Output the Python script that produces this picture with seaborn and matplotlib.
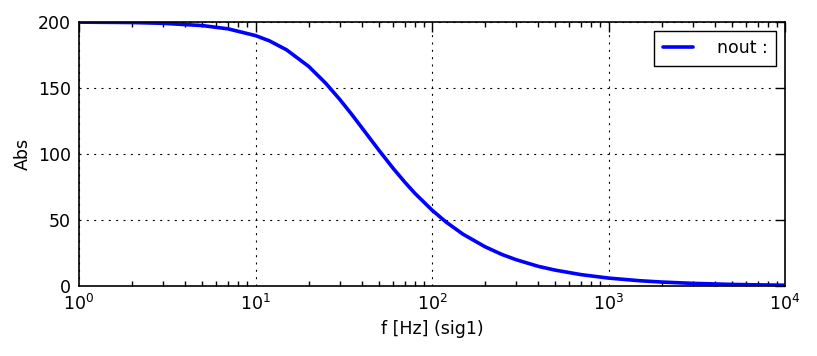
import matplotlib
matplotlib.use("Agg")
import matplotlib.pyplot as plt
import seaborn as sns
import pandas as pd
import numpy as np

freq = [1, 2, 3, 5, 7, 10, 12, 15, 20, 25, 30, 35, 40, 50, 60, 70, 80, 100, 120, 150,
        200, 250, 300, 400, 500, 700, 1000, 1500, 2000, 3000, 5000, 7000, 10000]
absval = [199.9, 199.6, 199.0, 197.3, 194.8, 189.7, 185.7, 178.9, 166.4, 153.6, 141.4,
          130.2, 120.0, 102.9, 89.4, 78.8, 70.2, 57.5, 48.5, 39.2,
          29.7, 23.8, 19.9, 14.9, 12.0, 8.6, 6.0, 4.0, 3.0, 2.0, 1.2, 0.86, 0.6]
series_name = "nout :"

df = pd.DataFrame({"f": freq, "Abs": absval, "series": series_name})

sns.set_style("white")
plt.rcParams['font.family'] = ['DejaVu Sans']
plt.rcParams['xtick.direction'] = 'in'
plt.rcParams['ytick.direction'] = 'in'
plt.rcParams['xtick.top'] = True
plt.rcParams['ytick.right'] = True
plt.rcParams['text.color'] = 'black'
plt.rcParams['axes.labelcolor'] = 'black'
plt.rcParams['xtick.color'] = 'black'
plt.rcParams['ytick.color'] = 'black'

fs = 12.5
lw = 2.6
fig = plt.figure(figsize=(8.17, 3.56), dpi=100)
ax = fig.add_axes([79/817, 1-286/356, (785-79)/817, (286-22)/356])

sns.lineplot(data=df, x="f", y="Abs", hue="series", palette=["#0000ff"],
             linewidth=lw, ax=ax)
ax.set_xscale("log")
ax.set_xlim(1, 1e4)
ax.set_ylim(0, 200)
ax.set_yticks([0, 50, 100, 150, 200])
ax.set_xlabel("f [Hz] (sig1)", fontsize=fs)
ax.set_ylabel("Abs", fontsize=fs)
ax.tick_params(axis='both', which='major', labelsize=fs, length=7, width=1, color='black',
               labelcolor='black', pad=6)
ax.tick_params(axis='x', which='minor', length=3.5, width=1, color='black', top=True, bottom=True, direction='in')
ax.grid(True, which='major', color='black', linestyle=(0, (1.8, 4.8)), linewidth=0.8)
for s in ax.spines.values():
    s.set_color('black')
    s.set_linewidth(1.2)

leg = ax.legend(loc='upper right', fontsize=fs, frameon=True, fancybox=False,
                handlelength=1.7, borderpad=0.5, handletextpad=1.4)
leg.get_frame().set_edgecolor('black')
leg.get_frame().set_linewidth(1.0)
leg.get_frame().set_alpha(1)
for h in leg.get_lines():
    h.set_linewidth(lw)
for t in leg.get_texts():
    t.set_color('black')

fig.savefig("out.png", dpi=100, facecolor='white')
